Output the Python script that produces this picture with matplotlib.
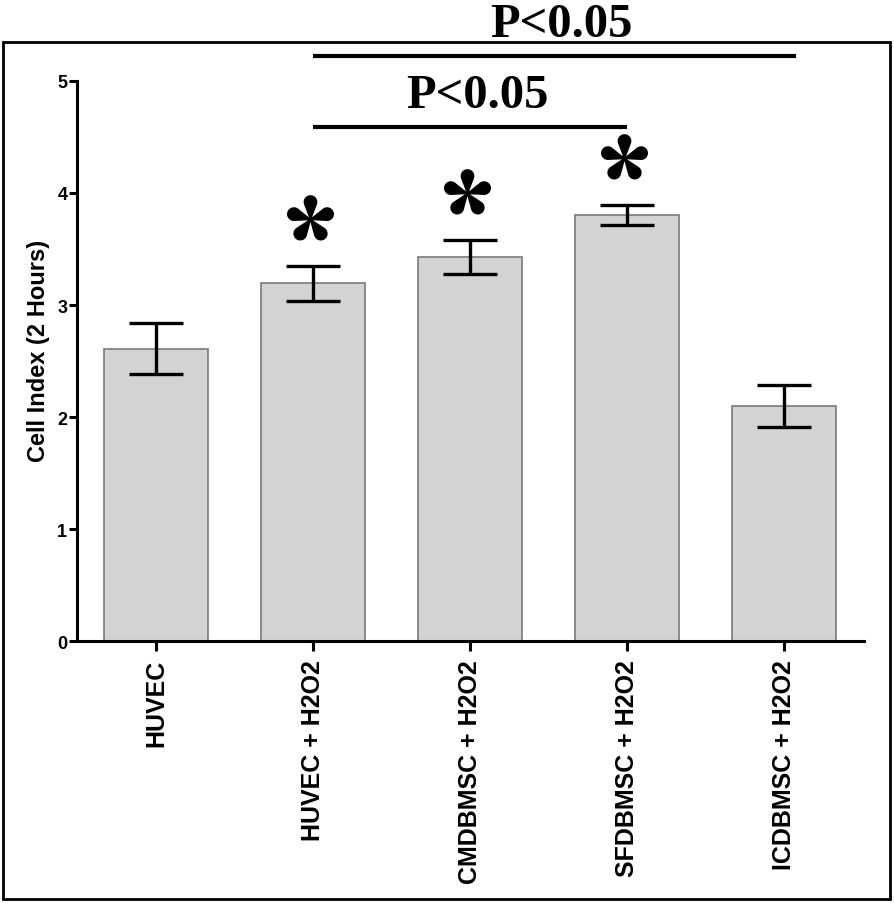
import numpy as np
import matplotlib
matplotlib.use("Agg")
import matplotlib.pyplot as plt
from matplotlib.patches import Rectangle
from matplotlib.path import Path

# Данные
groups = ["HUVEC", "HUVEC + H2O2", "CMDBMSC + H2O2", "SFDBMSC + H2O2", "ICDBMSC + H2O2"]
cell_index = [2.61, 3.195, 3.43, 3.80, 2.10]
cell_err = [0.23, 0.155, 0.15, 0.09, 0.19]
starred = [1, 2, 3]
# пары групп для линий значимости и подпись
sig_pairs = [(1, 3), (1, 4.08)]
sig_levels = [4.59, 5.22]
sig_text = "P<0.05"


def petal_star(n=5, dist=0.68, rad=0.24):
    # звёздочка из капелек (как в GraphPad)
    verts, codes = [], []
    a = np.arcsin(rad / dist)
    for k in range(n):
        th = np.pi / 2 + 2 * np.pi * k / n
        cx, cy = dist * np.cos(th), dist * np.sin(th)
        pts = [(0.0, 0.0)]
        # дуга по дальней стороне окружности
        start = th - a - np.pi / 2
        end = th + a + np.pi / 2
        for t in np.linspace(start, end, 30):
            pts.append((cx + rad * np.cos(t), cy + rad * np.sin(t)))
        pts.append((0.0, 0.0))
        verts += pts
        codes += [Path.MOVETO] + [Path.LINETO] * (len(pts) - 2) + [Path.CLOSEPOLY]
    return Path(verts, codes)


fig = plt.figure(figsize=(8.94, 9.04), dpi=100)
ax = fig.add_axes([0.0861, 0.2898, 0.8803, 0.6195])

x = np.arange(len(groups))
ax.bar(x, cell_index, width=0.66, color="#d3d3d3", edgecolor="#7a7a7a", linewidth=1.2, zorder=2)
ax.errorbar(x, cell_index, yerr=cell_err, fmt="none", ecolor="black",
            elinewidth=2.4, capsize=19.4, capthick=2.4, zorder=3)

ax.set_xlim(-0.503, 4.51)
ax.set_ylim(0, 5)
ax.set_yticks([0, 1, 2, 3, 4, 5])
ax.set_xticks(x)
ax.set_xticklabels(groups, rotation=90, fontsize=18, fontweight="bold", family="Liberation Sans")
for lab in ax.get_yticklabels():
    lab.set_fontsize(13)
    lab.set_fontweight("bold")
    lab.set_family("Liberation Sans")
ax.set_ylabel("Cell Index (2 Hours)", fontsize=17, fontweight="bold", family="Liberation Sans")
ax.yaxis.set_label_coords(-0.034, 0.52)

for side in ["top", "right"]:
    ax.spines[side].set_visible(False)
for side in ["left", "bottom"]:
    ax.spines[side].set_linewidth(2.2)
ax.tick_params(axis="both", width=2.2, length=6, color="black", pad=1)
ax.tick_params(axis="x", length=7, pad=6)

# звёздочки над столбцами
star = petal_star()
for i in starred:
    ax.plot(x[i] - 0.02, cell_index[i] + cell_err[i] + 0.42, marker=star, markersize=34,
            color="black", linestyle="none", clip_on=False, zorder=4)

# линии значимости
for (a, b), lvl in zip(sig_pairs, sig_levels):
    ax.plot([a, b], [lvl, lvl], color="black", linewidth=3, clip_on=False, solid_capstyle="butt")
    ax.text((a + b) / 2 + 0.045, lvl + 0.18, sig_text, ha="center", va="baseline", fontsize=35,
            fontweight="bold", family="Liberation Serif", clip_on=False)

# рамка вокруг рисунка
fig.patches.append(Rectangle((0.0034, 0.0044), 0.9921, 0.948, transform=fig.transFigure,
                             fill=False, edgecolor="black", linewidth=2))

fig.savefig("out.png", dpi=100)
